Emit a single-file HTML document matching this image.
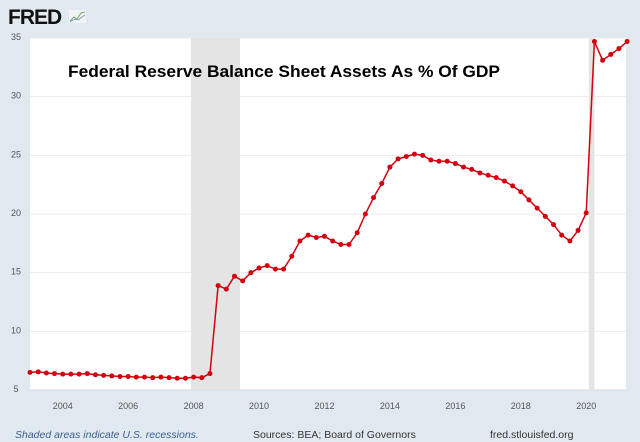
<!DOCTYPE html>
<html><head><meta charset="utf-8"><style>
body{margin:0;width:640px;height:442px;background:#e1e9f0;font-family:"Liberation Sans",sans-serif;overflow:hidden}
svg{display:block}
</style></head><body>
<svg id="c" width="640" height="442">
<rect x="0" y="0" width="640" height="442" fill="#e1e9f0"/>
<text x="8" y="24" font-size="21" font-weight="bold" fill="#111" font-family="Liberation Sans, sans-serif" letter-spacing="-1">FRED</text>
<g><rect x="69" y="10" width="17" height="13" fill="#f1f3f5"/><polyline points="70,21 74,17 77,19 81,13 85,12" fill="none" stroke="#7aa86b" stroke-width="1"/><polyline points="70,22 75,19 78,20 85,15" fill="none" stroke="#7a9cc0" stroke-width="1"/></g>
<rect x="30" y="38" width="596" height="352" fill="#fff"/>
<g id="grid"></g><g id="rec"></g><g id="ser"></g><g id="ax"></g>
<text x="68" y="77" font-size="17" font-weight="bold" fill="#000" font-family="Liberation Sans, sans-serif" textLength="432" lengthAdjust="spacingAndGlyphs">Federal Reserve Balance Sheet Assets As % Of GDP</text>
<text x="15" y="438" font-size="10.5" font-style="italic" fill="#3d5f8f">Shaded areas indicate U.S. recessions.</text>
<text x="253" y="438" font-size="10.5" fill="#333">Sources: BEA; Board of Governors</text>
<text x="490" y="438" font-size="10.5" fill="#333">fred.stlouisfed.org</text>
</svg>
<script>
const startYear=2003.0;
const values=[6.5,6.55,6.45,6.4,6.35,6.35,6.35,6.4,6.3,6.25,6.2,6.15,6.15,6.1,6.1,6.05,6.1,6.05,6.0,6.0,
6.1,6.05,6.4,13.9,13.6,14.7,14.3,15.0,15.4,15.6,15.3,15.3,16.4,17.7,18.2,18.0,18.1,17.7,17.4,17.4,
18.4,20.0,21.4,22.6,24.0,24.7,24.9,25.1,25.0,24.6,24.5,24.5,24.3,24.0,23.8,23.5,23.3,23.1,22.8,22.4,
21.9,21.2,20.5,19.8,19.1,18.2,17.7,18.6,20.1,34.7,33.1,33.6,34.1,34.7];
const yTicks=[5,10,15,20,25,30,35];
const xTicks=[2004,2006,2008,2010,2012,2014,2016,2018,2020];
const recessions=[[2007.92,2009.42],[2020.08,2020.25]];
const NS='http://www.w3.org/2000/svg';
const X=t=>30+(t-2003)*32.72;
const Y=v=>390-(v-5)*11.733;
function mk(tag,attrs,parent){const e=document.createElementNS(NS,tag);for(const k in attrs)e.setAttribute(k,attrs[k]);document.getElementById(parent).appendChild(e);return e;}
yTicks.forEach(v=>{
 const l=mk('line',{x1:30,x2:626,y1:Y(v),y2:Y(v),stroke:v===5?'#d6dde5':'#ececec','stroke-width':1},'grid');
 
 
 const t=mk('text',{x:16,y:Y(v)+2,'font-size':9,fill:'#555','text-anchor':'middle'},'ax');t.textContent=v;
 
 
});
xTicks.forEach(yr=>{
 const t=mk('text',{x:X(yr),y:409,'font-size':9,fill:'#555','text-anchor':'middle'},'ax');t.textContent=yr;
 
 
});
recessions.forEach(r=>{
 const e=mk('rect',{x:X(r[0]),y:38,width:X(r[1])-X(r[0]),height:352,fill:'#e4e4e4'},'rec');
 
 
});
const pts=values.map((v,i)=>[X(startYear+i*0.25),Y(v)]);
const pl=mk('polyline',{points:pts.map(p=>p.join(',')).join(' '),fill:'none',stroke:'#d3000f','stroke-width':1.5},'ser');


pts.forEach(p=>{
 const c=mk('circle',{cx:p[0],cy:p[1],r:2.5,fill:'#d3000f'},'ser');
 
 
});
</script>
</body></html>
